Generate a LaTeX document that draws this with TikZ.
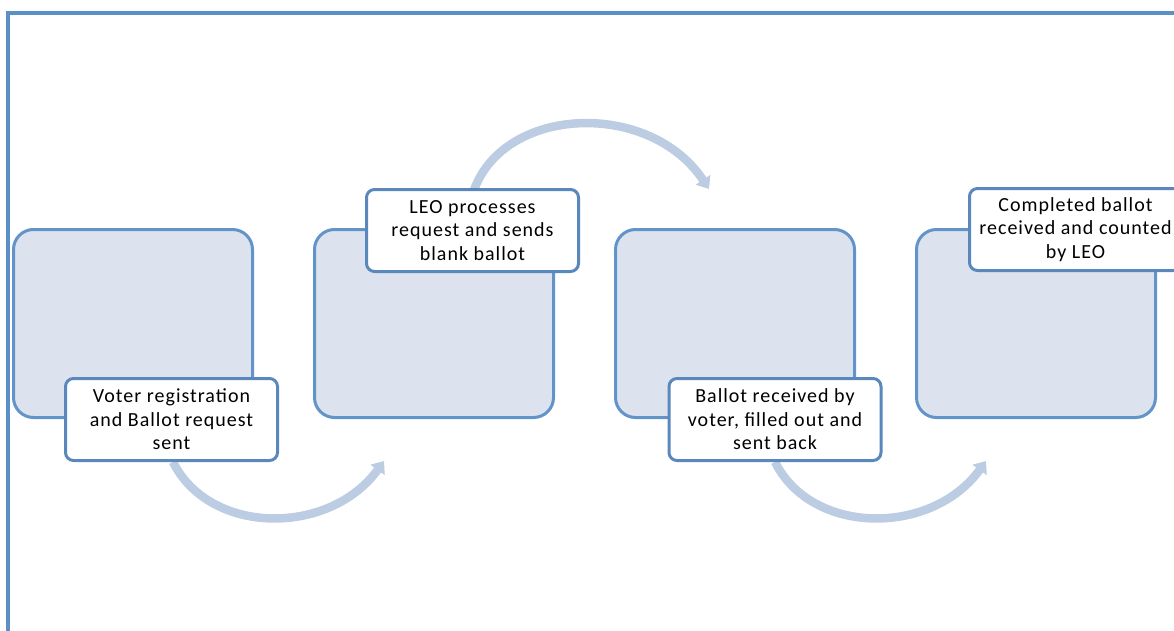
\documentclass[tikz,border=0pt]{standalone}
\usepackage{fontspec}
\setmainfont{Carlito}[LetterSpace=5]
\usetikzlibrary{arrows.meta}
\definecolor{frameblue}{HTML}{5B8FC6}
\definecolor{boxfill}{HTML}{DCE3EE}
\definecolor{boxline}{HTML}{6294CA}
\definecolor{lblline}{HTML}{5A88BC}
\definecolor{arrowc}{HTML}{BCCCE3}
\begin{document}
\begin{tikzpicture}[x=1pt,y=-1pt,
  bigbox/.style={draw=boxline, line width=3pt, fill=boxfill, rounded corners=20pt,
    minimum width=239pt, minimum height=188pt, inner sep=0pt},
  lblbox/.style={draw=lblline, line width=3pt, fill=white, rounded corners=8pt,
    minimum width=212pt, minimum height=82pt, inner sep=0pt, align=center,
    font=\fontsize{20}{23.5}\selectfont},
  flow/.style={draw=arrowc, line width=8.5pt, -{Triangle[length=11pt,width=17pt]}}
]
\useasboundingbox (0,0) rectangle (1174,631);
\clip (0,0) rectangle (1174,631);
\draw[frameblue, line width=4pt] (7.5,13) rectangle (1250,700);

\node[bigbox] (b1) at (133,323.5) {};
\node[bigbox] (b2) at (434,323.5) {};
\node[bigbox] (b3) at (735,323.5) {};
\node[bigbox] (b4) at (1036,323.5) {};

\coordinate (a1s) at (173,462);
\coordinate (a1e) at (384,461);
\coordinate (a2s) at (474,190);
\coordinate (a2e) at (709,189);
\coordinate (a3s) at (775,462);
\coordinate (a3e) at (986,461);

\draw[flow] (a1s) .. controls (210,536) and (330,536) .. (a1e);
\draw[flow] (a2s) .. controls (505,105) and (650,100) .. (a2e);
\draw[flow] (a3s) .. controls (812,536) and (932,536) .. (a3e);

\node[lblbox] (t1) at (171.5,419.5) {Voter registration\\and Ballot request\\sent};
\node[lblbox] (t2) at (472.5,230.5) {LEO processes\\request and sends\\blank ballot};
\node[lblbox] (t3) at (775,419.5) {Ballot received by\\voter, filled out and\\sent back};
\node[lblbox] (t4) at (1075.5,229.5) {Completed ballot\\received and counted\\by LEO};
\end{tikzpicture}
\end{document}
